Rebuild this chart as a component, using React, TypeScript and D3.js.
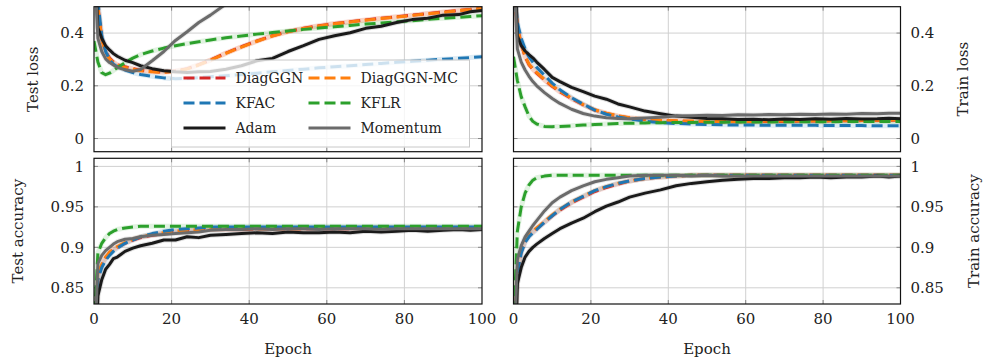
import React from 'react';
import * as d3 from 'd3';

// epochs shared by every curve
const epochs = [0, 1, 2, 3, 4, 5, 6, 8, 10, 12, 15, 18, 21, 24, 27, 30, 34, 38, 42, 46, 50, 54, 58, 62, 66, 70, 74, 78, 82, 86, 90, 94, 97, 100];

const xTicks = [0, 20, 40, 60, 80, 100];
const lossTicks = [0, 0.2, 0.4];
const accTicks = [0.85, 0.9, 0.95, 1];
const lossTickLabels = ['0', '0.2', '0.4'];
const accTickLabels = ['0.85', '0.9', '0.95', '1'];

// test loss
const testLossDiagGGN = [0.62, 0.5, 0.38, 0.33, 0.305, 0.29, 0.28, 0.272, 0.265, 0.259, 0.254, 0.252, 0.256, 0.265, 0.28, 0.298, 0.324, 0.348, 0.37, 0.39, 0.406, 0.418, 0.428, 0.436, 0.443, 0.45, 0.456, 0.462, 0.468, 0.474, 0.48, 0.486, 0.49, 0.495];
const testLossDiagGGNMC = [0.62, 0.5, 0.375, 0.326, 0.302, 0.288, 0.278, 0.27, 0.263, 0.257, 0.253, 0.251, 0.255, 0.264, 0.279, 0.297, 0.323, 0.347, 0.369, 0.389, 0.405, 0.417, 0.427, 0.435, 0.442, 0.449, 0.455, 0.461, 0.467, 0.473, 0.479, 0.485, 0.489, 0.494];
const testLossKFAC = [0.65, 0.52, 0.39, 0.33, 0.3, 0.282, 0.272, 0.26, 0.25, 0.243, 0.236, 0.23, 0.227, 0.228, 0.231, 0.234, 0.238, 0.243, 0.248, 0.253, 0.258, 0.263, 0.268, 0.272, 0.276, 0.281, 0.285, 0.289, 0.293, 0.297, 0.301, 0.304, 0.307, 0.31];
const testLossKFLR = [0.37, 0.29, 0.25, 0.242, 0.248, 0.258, 0.268, 0.288, 0.305, 0.318, 0.332, 0.343, 0.352, 0.36, 0.367, 0.374, 0.382, 0.389, 0.396, 0.402, 0.408, 0.414, 0.419, 0.424, 0.429, 0.434, 0.438, 0.443, 0.447, 0.452, 0.456, 0.46, 0.463, 0.466];
const testLossAdam = [0.75, 0.42, 0.38, 0.352, 0.336, 0.322, 0.312, 0.297, 0.288, 0.276, 0.265, 0.257, 0.253, 0.25, 0.253, 0.254, 0.263, 0.276, 0.295, 0.304, 0.33, 0.352, 0.376, 0.39, 0.401, 0.418, 0.426, 0.44, 0.451, 0.456, 0.468, 0.47, 0.481, 0.486];
const testLossMomentum = [0.7, 0.38, 0.33, 0.302, 0.288, 0.279, 0.27, 0.261, 0.255, 0.262, 0.295, 0.33, 0.372, 0.405, 0.44, 0.468, 0.51, 0.55, 0.59, 0.62, 0.65, 0.68, 0.7, 0.72, 0.75, 0.78, 0.8, 0.82, 0.84, 0.86, 0.88, 0.9, 0.91, 0.92];

// train loss
const trainLossDiagGGN = [0.6, 0.42, 0.36, 0.31, 0.28, 0.263, 0.248, 0.222, 0.198, 0.177, 0.151, 0.128, 0.108, 0.095, 0.085, 0.078, 0.072, 0.068, 0.066, 0.065, 0.064, 0.064, 0.064, 0.064, 0.065, 0.065, 0.066, 0.066, 0.067, 0.067, 0.068, 0.068, 0.069, 0.07];
const trainLossDiagGGNMC = [0.6, 0.42, 0.358, 0.312, 0.282, 0.265, 0.25, 0.224, 0.2, 0.179, 0.153, 0.129, 0.109, 0.096, 0.086, 0.079, 0.073, 0.069, 0.067, 0.066, 0.065, 0.065, 0.065, 0.065, 0.066, 0.066, 0.067, 0.067, 0.068, 0.068, 0.069, 0.069, 0.07, 0.071];
const trainLossKFAC = [0.62, 0.44, 0.38, 0.34, 0.31, 0.29, 0.27, 0.24, 0.21, 0.185, 0.155, 0.13, 0.108, 0.092, 0.082, 0.074, 0.066, 0.06, 0.057, 0.055, 0.053, 0.052, 0.051, 0.051, 0.05, 0.05, 0.05, 0.05, 0.049, 0.049, 0.049, 0.048, 0.048, 0.048];
const trainLossKFLR = [0.31, 0.22, 0.158, 0.12, 0.085, 0.065, 0.055, 0.046, 0.045, 0.046, 0.048, 0.051, 0.053, 0.055, 0.057, 0.058, 0.059, 0.06, 0.061, 0.061, 0.062, 0.062, 0.063, 0.063, 0.063, 0.064, 0.064, 0.064, 0.064, 0.065, 0.065, 0.065, 0.065, 0.065];
const trainLossAdam = [0.8, 0.39, 0.352, 0.332, 0.318, 0.306, 0.29, 0.262, 0.232, 0.216, 0.194, 0.178, 0.161, 0.149, 0.131, 0.12, 0.104, 0.094, 0.085, 0.081, 0.076, 0.075, 0.072, 0.073, 0.071, 0.074, 0.072, 0.075, 0.073, 0.076, 0.074, 0.075, 0.077, 0.075];
const trainLossMomentum = [0.7, 0.34, 0.29, 0.26, 0.236, 0.216, 0.2, 0.174, 0.152, 0.133, 0.111, 0.095, 0.085, 0.079, 0.076, 0.075, 0.078, 0.081, 0.085, 0.086, 0.088, 0.087, 0.09, 0.089, 0.091, 0.09, 0.092, 0.091, 0.093, 0.092, 0.095, 0.094, 0.096, 0.096];

// test accuracy
const testAccDiagGGN = [0.75, 0.865, 0.878, 0.887, 0.893, 0.897, 0.9, 0.905, 0.909, 0.912, 0.915, 0.917, 0.919, 0.92, 0.921, 0.922, 0.922, 0.922, 0.923, 0.923, 0.923, 0.923, 0.923, 0.923, 0.923, 0.924, 0.924, 0.924, 0.924, 0.924, 0.924, 0.924, 0.924, 0.924];
const testAccDiagGGNMC = [0.75, 0.866, 0.879, 0.888, 0.894, 0.898, 0.901, 0.906, 0.91, 0.913, 0.916, 0.918, 0.92, 0.921, 0.922, 0.922, 0.923, 0.923, 0.923, 0.923, 0.923, 0.923, 0.924, 0.924, 0.924, 0.924, 0.924, 0.924, 0.924, 0.924, 0.924, 0.924, 0.924, 0.924];
const testAccKFAC = [0.75, 0.86, 0.875, 0.884, 0.89, 0.895, 0.899, 0.905, 0.909, 0.913, 0.917, 0.92, 0.922, 0.923, 0.924, 0.925, 0.925, 0.925, 0.925, 0.925, 0.925, 0.925, 0.925, 0.925, 0.925, 0.925, 0.925, 0.925, 0.925, 0.925, 0.925, 0.925, 0.925, 0.925];
const testAccKFLR = [0.8, 0.893, 0.905, 0.912, 0.917, 0.92, 0.922, 0.924, 0.925, 0.926, 0.926, 0.926, 0.926, 0.926, 0.926, 0.926, 0.926, 0.926, 0.926, 0.926, 0.926, 0.926, 0.926, 0.926, 0.926, 0.926, 0.926, 0.926, 0.926, 0.926, 0.926, 0.926, 0.926, 0.926];
const testAccAdam = [0.7, 0.84, 0.86, 0.873, 0.879, 0.886, 0.888, 0.895, 0.899, 0.902, 0.905, 0.909, 0.909, 0.913, 0.912, 0.915, 0.916, 0.917, 0.918, 0.917, 0.919, 0.918, 0.918, 0.919, 0.918, 0.92, 0.919, 0.92, 0.921, 0.92, 0.921, 0.922, 0.921, 0.922];
const testAccMomentum = [0.75, 0.88, 0.89, 0.896, 0.9, 0.904, 0.907, 0.91, 0.911, 0.913, 0.915, 0.916, 0.917, 0.918, 0.919, 0.921, 0.922, 0.922, 0.923, 0.922, 0.923, 0.923, 0.922, 0.923, 0.923, 0.923, 0.922, 0.923, 0.923, 0.923, 0.923, 0.923, 0.923, 0.923];

// train accuracy
const trainAccDiagGGN = [0.75, 0.87, 0.895, 0.908, 0.914, 0.919, 0.923, 0.931, 0.939, 0.946, 0.955, 0.962, 0.969, 0.974, 0.978, 0.982, 0.985, 0.987, 0.988, 0.989, 0.989, 0.989, 0.989, 0.989, 0.989, 0.989, 0.989, 0.989, 0.989, 0.989, 0.989, 0.989, 0.989, 0.989];
const trainAccDiagGGNMC = [0.75, 0.871, 0.896, 0.909, 0.915, 0.92, 0.924, 0.932, 0.94, 0.947, 0.956, 0.963, 0.97, 0.975, 0.979, 0.982, 0.985, 0.987, 0.988, 0.989, 0.989, 0.989, 0.989, 0.989, 0.989, 0.989, 0.989, 0.989, 0.989, 0.989, 0.989, 0.989, 0.989, 0.989];
const trainAccKFAC = [0.75, 0.868, 0.893, 0.906, 0.913, 0.918, 0.922, 0.931, 0.939, 0.947, 0.956, 0.963, 0.97, 0.975, 0.979, 0.982, 0.985, 0.987, 0.988, 0.989, 0.989, 0.989, 0.989, 0.989, 0.989, 0.989, 0.989, 0.989, 0.989, 0.989, 0.989, 0.989, 0.989, 0.989];
const trainAccKFLR = [0.8, 0.92, 0.95, 0.967, 0.977, 0.983, 0.986, 0.988, 0.989, 0.989, 0.989, 0.989, 0.989, 0.989, 0.989, 0.989, 0.989, 0.989, 0.989, 0.989, 0.989, 0.989, 0.989, 0.989, 0.989, 0.989, 0.989, 0.989, 0.989, 0.989, 0.989, 0.989, 0.989, 0.989];
const trainAccAdam = [0.7, 0.855, 0.875, 0.888, 0.895, 0.9, 0.904, 0.911, 0.917, 0.923, 0.93, 0.936, 0.944, 0.951, 0.956, 0.962, 0.967, 0.971, 0.976, 0.979, 0.981, 0.983, 0.984, 0.985, 0.985, 0.986, 0.986, 0.987, 0.986, 0.987, 0.987, 0.988, 0.987, 0.988];
const trainAccMomentum = [0.75, 0.885, 0.902, 0.913, 0.92, 0.927, 0.933, 0.945, 0.955, 0.962, 0.97, 0.976, 0.981, 0.984, 0.986, 0.988, 0.989, 0.989, 0.989, 0.988, 0.989, 0.988, 0.988, 0.988, 0.988, 0.988, 0.988, 0.988, 0.988, 0.988, 0.988, 0.988, 0.988, 0.988];

const seriesNames = ['DiagGGN', 'DiagGGN-MC', 'KFAC', 'KFLR', 'Adam', 'Momentum'];
const seriesColors = ['#d62728', '#ff7f0e', '#1f77b4', '#2ca02c', '#1a1a1a', '#6b6b6b'];
const seriesDashed = [true, true, true, true, false, false];

const FONT = '"DejaVu Serif", serif';
const DASH = '11,5';

interface PanelProps {
  id: string;
  x0: number;
  x1: number;
  y0: number;
  y1: number;
  yDomain: [number, number];
  yTicks: number[];
  yTickLabels: string[];
  yLabel: string;
  right: boolean;
  showX: boolean;
  data: number[][];
}

const Panel: React.FC<PanelProps> = ({ id, x0, x1, y0, y1, yDomain, yTicks, yTickLabels, yLabel, right, showX, data }) => {
  const x = d3.scaleLinear().domain([0, 100]).range([x0, x1]);
  const y = d3.scaleLinear().domain(yDomain).range([y1, y0]);
  const line = d3.line<number>()
    .x((_, i) => x(epochs[i]))
    .y(d => y(d));

  const labelX = right ? x1 + 10 : x0 - 10;
  const titleX = right ? x1 + (yLabel.length > 10 ? 73 : 62) : x0 - (yLabel.length > 10 ? 76 : 61);
  const midY = (y0 + y1) / 2;

  return (
    <g>
      <defs>
        <clipPath id={`clip-${id}`}>
          <rect x={x0} y={y0} width={x1 - x0} height={y1 - y0} />
        </clipPath>
      </defs>
      <rect x={x0} y={y0} width={x1 - x0} height={y1 - y0} fill="#fff" />
      {xTicks.slice(1, -1).map(t => (
        <line key={`gx${t}`} x1={x(t)} x2={x(t)} y1={y0} y2={y1} stroke="#d0d0d0" strokeWidth={1} />
      ))}
      {yTicks.map(t => (
        <line key={`gy${t}`} x1={x0} x2={x1} y1={y(t)} y2={y(t)} stroke="#d0d0d0" strokeWidth={1} />
      ))}
      {xTicks.slice(1, -1).map(t => (
        <g key={`tx${t}`}>
          <line x1={x(t)} x2={x(t)} y1={y1} y2={y1 - 4} stroke="#888" />
          <line x1={x(t)} x2={x(t)} y1={y0} y2={y0 + 4} stroke="#888" />
        </g>
      ))}
      {yTicks.map(t => (
        <g key={`ty${t}`}>
          <line x1={x0} x2={x0 + 4} y1={y(t)} y2={y(t)} stroke="#888" />
          <line x1={x1} x2={x1 - 4} y1={y(t)} y2={y(t)} stroke="#888" />
        </g>
      ))}
      <g clipPath={`url(#clip-${id})`}>
        {data.map((vals, i) => (
          <path key={`band${i}`} d={line(vals) || ''} fill="none" stroke={seriesColors[i]}
            strokeWidth={5} strokeOpacity={0.14} strokeLinejoin="round" />
        ))}
        {data.map((vals, i) => (
          <path key={`ln${i}`} d={line(vals) || ''} fill="none" stroke={seriesColors[i]}
            strokeWidth={3} strokeDasharray={seriesDashed[i] ? DASH : undefined}
            strokeLinejoin="round" />
        ))}
      </g>
      <rect x={x0} y={y0} width={x1 - x0} height={y1 - y0} fill="none" stroke="#111" strokeWidth={1.2} />
      {yTicks.map((t, i) => (
        <text key={`yl${t}`} x={labelX} y={y(t)} dy="0.35em" textAnchor={right ? 'start' : 'end'}
          fontFamily={FONT} fontSize={15} fill="#222">{yTickLabels[i]}</text>
      ))}
      <text transform={`translate(${titleX},${midY}) rotate(-90)`} textAnchor="middle" dy="0.35em"
        fontFamily={FONT} fontSize={15} fill="#222">{yLabel}</text>
      {showX && xTicks.map(t => (
        <text key={`xl${t}`} x={x(t)} y={y1 + 20} textAnchor="middle"
          fontFamily={FONT} fontSize={15} fill="#222">{t}</text>
      ))}
      {showX && (
        <text x={(x0 + x1) / 2} y={y1 + 50} textAnchor="middle" fontFamily={FONT} fontSize={15} fill="#222">Epoch</text>
      )}
    </g>
  );
};

const Legend: React.FC<{ left: number; top: number }> = ({ left, top }) => {
  const colX = [12, 137];
  const rowY = [18, 43, 68];
  return (
    <g transform={`translate(${left},${top})`}>
      <rect x={0} y={0} width={298} height={87} fill="#fff" fillOpacity={0.78} stroke="#c8c8c8" strokeWidth={1} />
      {seriesNames.map((name, i) => {
        const cx = colX[i % 2];
        const cy = rowY[Math.floor(i / 2)];
        return (
          <g key={name}>
            <line x1={cx} x2={cx + 42} y1={cy} y2={cy} stroke={seriesColors[i]} strokeWidth={3}
              strokeDasharray={seriesDashed[i] ? DASH : undefined} />
            <text x={cx + 52} y={cy} dy="0.35em" fontFamily={FONT} fontSize={14} fill="#222">{name}</text>
          </g>
        );
      })}
    </g>
  );
};

export default function App() {
  const L = { x0: 94, x1: 482 };
  const R = { x0: 513.5, x1: 900.5 };
  const T = { y0: 6.7, y1: 151.7 };
  const B = { y0: 158.3, y1: 304 };
  const lossDomain: [number, number] = [-0.05, 0.5];
  const accDomain: [number, number] = [0.83, 1.01];

  return (
    <div style={{ position: 'absolute', left: 0, top: 0 }}>
      <svg width={984} height={364} style={{ display: 'block', background: '#fff' }}>
        <Panel id="tl" {...L} {...T} yDomain={lossDomain} yTicks={lossTicks} yTickLabels={lossTickLabels}
          yLabel="Test loss" right={false} showX={false}
          data={[testLossDiagGGN, testLossDiagGGNMC, testLossKFAC, testLossKFLR, testLossAdam, testLossMomentum]} />
        <Panel id="tr" {...R} {...T} yDomain={lossDomain} yTicks={lossTicks} yTickLabels={lossTickLabels}
          yLabel="Train loss" right={true} showX={false}
          data={[trainLossDiagGGN, trainLossDiagGGNMC, trainLossKFAC, trainLossKFLR, trainLossAdam, trainLossMomentum]} />
        <Panel id="bl" {...L} {...B} yDomain={accDomain} yTicks={accTicks} yTickLabels={accTickLabels}
          yLabel="Test accuracy" right={false} showX={true}
          data={[testAccDiagGGN, testAccDiagGGNMC, testAccKFAC, testAccKFLR, testAccAdam, testAccMomentum]} />
        <Panel id="br" {...R} {...B} yDomain={accDomain} yTicks={accTicks} yTickLabels={accTickLabels}
          yLabel="Train accuracy" right={true} showX={true}
          data={[trainAccDiagGGN, trainAccDiagGGNMC, trainAccKFAC, trainAccKFLR, trainAccAdam, trainAccMomentum]} />
        <Legend left={171.5} top={60} />
      </svg>
    </div>
  );
}
